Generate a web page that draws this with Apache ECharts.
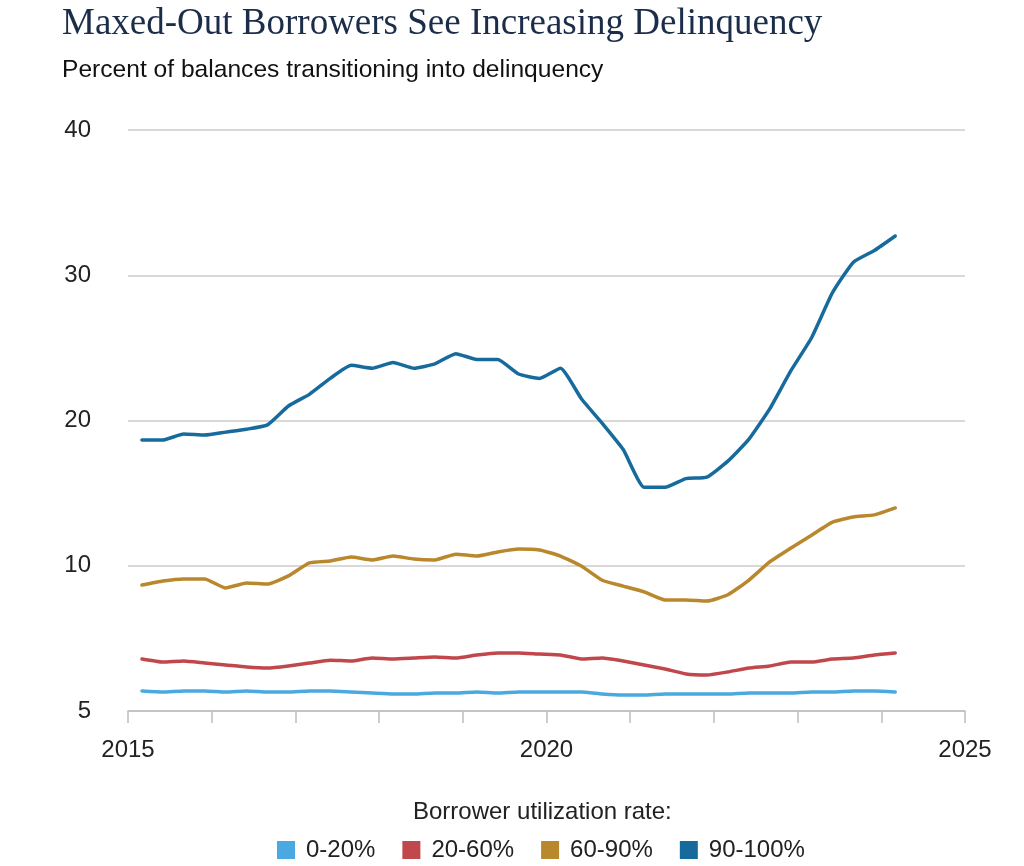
<!DOCTYPE html>
<html>
<head>
<meta charset="utf-8">
<script src="https://cdn.jsdelivr.net/npm/echarts@6/dist/echarts.min.js"></script>
<style>
html,body{margin:0;padding:0;background:#fff;}
#main{width:1024px;height:866px;}
</style>
</head>
<body>
<div id="main"></div>
<script>
// ---- Data ----
var quarters = [
  '2015Q1','2015Q2','2015Q3','2015Q4',
  '2016Q1','2016Q2','2016Q3','2016Q4',
  '2017Q1','2017Q2','2017Q3','2017Q4',
  '2018Q1','2018Q2','2018Q3','2018Q4',
  '2019Q1','2019Q2','2019Q3','2019Q4',
  '2020Q1','2020Q2','2020Q3','2020Q4',
  '2021Q1','2021Q2','2021Q3','2021Q4',
  '2022Q1','2022Q2','2022Q3','2022Q4',
  '2023Q1','2023Q2','2023Q3','2023Q4',
  '2024Q1'
];
var seriesNames = ['0-20%', '20-60%', '60-90%', '90-100%'];
var util0_20 = [1.38,1.31,1.38,1.38,1.31,1.38,1.31,1.31,1.38,1.38,1.31,1.24,1.17,1.17,1.24,1.24,1.31,1.24,1.31,1.31,1.31,1.31,1.17,1.10,1.10,1.17,1.17,1.17,1.17,1.24,1.24,1.24,1.31,1.31,1.38,1.38,1.31];
var util20_60 = [3.58,3.37,3.44,3.30,3.17,3.03,2.96,3.10,3.30,3.50,3.44,3.65,3.58,3.65,3.72,3.65,3.86,4.00,4.00,3.92,3.86,3.58,3.65,3.44,3.17,2.89,2.55,2.48,2.69,2.96,3.10,3.37,3.37,3.58,3.65,3.86,4.00];
var util60_90 = [8.67,8.95,9.09,9.09,8.47,8.81,8.74,9.30,10.20,10.33,10.60,10.40,10.67,10.46,10.40,10.80,10.67,10.95,11.15,11.08,10.67,9.98,9.00,8.60,8.20,7.64,7.64,7.57,8.00,9.00,10.26,11.20,12.10,13.00,13.36,13.50,13.98];
var util90_100 = [18.66,18.66,19.07,19.00,19.20,19.40,19.70,21.00,21.80,22.90,23.80,23.60,24.00,23.60,23.90,24.60,24.20,24.20,23.20,22.90,23.60,21.50,19.80,18.00,15.40,15.40,16.00,16.10,17.20,18.70,20.80,23.40,25.70,28.80,30.90,31.70,32.70];
var yTickLabels = ['5', '10', '20', '30', '40'];
var xTickLabels = ['2015', '2020', '2025'];

// ---- Build ----
function qToYear(q) {
  var y = parseInt(q.slice(0, 4), 10);
  var n = parseInt(q.slice(5), 10);
  return y + (n - 1) * 0.25 + 1 / 6;
}
function pairs(vals) {
  return quarters.map(function (q, i) { return [qToYear(q), vals[i]]; });
}
var colors = ['#4aa9e0', '#c0474b', '#b9872c', '#176b9c'];
var allVals = [util0_20, util20_60, util60_90, util90_100];

var chart = echarts.init(document.getElementById('main'), null, {renderer: 'canvas'});
var option = {
  backgroundColor: '#ffffff',
  animation: false,
  color: colors,
  title: [
    {
      text: 'Maxed-Out Borrowers See Increasing Delinquency',
      left: 57, top: 1,
      textStyle: {fontFamily: 'Liberation Serif', fontSize: 37, fontWeight: 'normal', color: '#1c2d4a'}
    },
    {
      text: 'Percent of balances transitioning into delinquency',
      left: 57, top: 53,
      textStyle: {fontFamily: 'Liberation Sans', fontSize: 24.6, fontWeight: 'normal', color: '#111'}
    },
    {
      text: 'Borrower utilization rate:',
      left: 408, top: 795,
      textStyle: {fontFamily: 'Liberation Sans', fontSize: 24, fontWeight: 'normal', color: '#222'}
    }
  ],
  legend: {
    data: seriesNames,
    left: 272, top: 833,
    icon: 'rect',
    itemWidth: 18, itemHeight: 18,
    itemGap: 27,
    textStyle: {fontFamily: 'Liberation Sans', fontSize: 24, color: '#222', padding: [0, 0, 0, 6]}
  },
  grid: {left: 128, right: 59, top: 130, bottom: 155, containLabel: false},
  xAxis: {
    type: 'value',
    min: 2015, max: 2025, interval: 1,
    axisLine: {show: true, lineStyle: {color: '#bdbdbd', width: 1.5}},
    axisTick: {show: true, length: 12, lineStyle: {color: '#bdbdbd', width: 1.5}},
    splitLine: {show: false},
    axisLabel: {
      margin: 27,
      fontFamily: 'Liberation Sans', fontSize: 24, color: '#222',
      formatter: function (v) {
        var s = String(Math.round(v));
        return xTickLabels.indexOf(s) >= 0 ? s : '';
      }
    }
  },
  yAxis: {
    type: 'value',
    min: 0, max: 40, interval: 10,
    axisLine: {show: false},
    axisTick: {show: false},
    splitLine: {show: true, lineStyle: {color: '#cccccc', width: 1.5}},
    axisLabel: {
      margin: 37,
      fontFamily: 'Liberation Sans', fontSize: 24, color: '#222',
      formatter: function (v) { return yTickLabels[Math.round(v / 10)]; }
    }
  },
  series: seriesNames.map(function (name, i) {
    return {
      name: name,
      type: 'line',
      data: pairs(allVals[i]),
      showSymbol: false,
      symbol: 'none',
      smooth: 0.15,
      lineStyle: {width: 3.5, color: colors[i], cap: 'round', join: 'round'},
      itemStyle: {color: colors[i]},
      z: 3 + i
    };
  })
};
chart.setOption(option);
</script>
</body>
</html>
